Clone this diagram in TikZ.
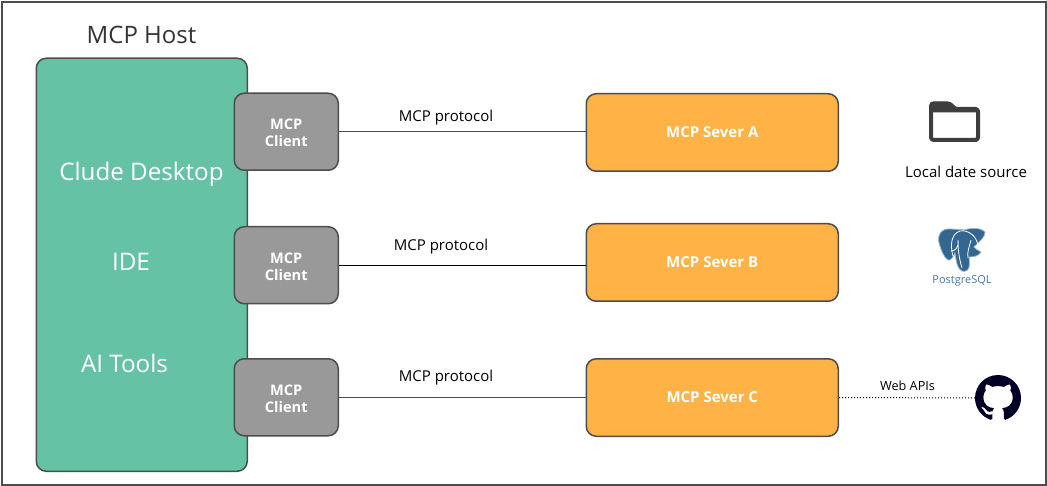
\documentclass[tikz,border=0pt]{standalone}
\usepackage{fontspec}
\setmainfont{Open Sans}
\usepackage{xcolor}
\usetikzlibrary{svg.path}
\definecolor{hostgreen}{HTML}{66C2A5}
\definecolor{clientgray}{HTML}{999999}
\definecolor{serverorange}{HTML}{FFB347}
\definecolor{edgegray}{HTML}{4D4D4D}
\definecolor{pgblue}{HTML}{336791}
\newcommand{\clientlabel}{\rule{0pt}{13.5pt}MCP\\Client}
\tikzset{
  box/.style={draw=edgegray,line width=1.5pt,rounded corners=10pt,inner sep=0pt,anchor=north west},
  hostbox/.style={box,fill=hostgreen,minimum width=211pt,minimum height=413pt},
  clientbox/.style={box,fill=clientgray,minimum width=104pt,minimum height=77pt,text=white,font=\fontsize{14.6}{17}\selectfont\bfseries,align=center},
  serverbox/.style={box,fill=serverorange,minimum width=252pt,minimum height=77.5pt,text=white,font=\fontsize{15}{17}\selectfont\bfseries},
  hosttext/.style={text=white,font=\fontsize{24.2}{27}\selectfont,inner sep=0pt},
  linetext/.style={font=\fontsize{15}{18}\selectfont,inner sep=0pt}
}
\begin{document}
\begin{tikzpicture}[x=1pt,y=-1pt]
  \useasboundingbox (0,0) rectangle (1047,486);
  \node[draw=edgegray,line width=2pt,minimum width=1044pt,minimum height=483pt,anchor=north west,inner sep=0pt] (frame) at (1,1) {};

  % host
  \node[font=\fontsize{24}{27}\selectfont,text=black!80,inner sep=0pt] (hostname) at (141.5,35) {MCP Host};
  \node[hostbox] (host) at (35.5,57.5) {};
  \node[hosttext] (desktop) at (141.5,174) {Clude Desktop};
  \node[hosttext] (ide) at (131,262) {IDE};
  \node[hosttext] (aitools) at (124.5,363) {AI Tools};

  % clients
  \node[clientbox] (clientA) at (233.5,92.5) {\clientlabel};
  \node[clientbox] (clientB) at (233.5,226) {\clientlabel};
  \node[clientbox] (clientC) at (233.5,358) {\clientlabel};

  % servers
  \node[serverbox] (serverA) at (585.5,93) {MCP Sever A};
  \node[serverbox] (serverB) at (585.5,223) {MCP Sever B};
  \node[serverbox] (serverC) at (585.5,358) {MCP Sever C};

  \draw[edgegray,line width=1pt] (clientA.east) -- (clientA.east -| serverA.west);
  \draw[black,line width=1pt] (clientB.east) -- (clientB.east -| serverB.west);
  \draw[edgegray,line width=1pt] (clientC.east) -- (clientC.east -| serverC.west);
  \node[linetext] (protoA) at (446,118) {MCP protocol};
  \node[linetext] (protoB) at (441,247) {MCP protocol};
  \node[linetext] (protoC) at (446,378) {MCP protocol};

  % local data
  \draw[edgegray!80!black,line width=4pt,line join=round,rounded corners=2.5pt] (931,103.5) -- (950,103.5) -- (955,109) -- (978,109) -- (978,140) -- (931,140) -- cycle;
  \fill[edgegray!80!black,rounded corners=1pt] (930,102) -- (950,102) -- (955,108) -- (978,108) -- (978,112.5) -- (930,112.5) -- cycle;
  \node[linetext] (localtext) at (966,172) {Local date source};

  % postgres
  \fill[pgblue,draw=pgblue!45,line width=.8pt] (951,229) .. controls (942,228) and (937,234) .. (939,243) .. controls (941,250) and (944,258) .. (948,260) .. controls (951,261) and (953,257) .. (955,253) .. controls (956,260) and (957,271) .. (964,271.5) .. controls (970,271.5) and (970,264) .. (969,257) .. controls (974,257) and (979,256) .. (981,252) .. controls (978,250) and (975,249) .. (974,247) .. controls (979,242) and (986,236) .. (985,232) .. controls (980,227) and (970,228) .. (964,230) .. controls (960,229) and (955,229.5) .. (951,229) -- cycle;
  \draw[white,line width=.8pt] (953,256) .. controls (950,245) and (951,234) .. (960,231) .. controls (968,229.5) and (977,236) .. (978,246)
    (951,251) .. controls (955,251) and (959,248) .. (958,240) .. controls (958,250) and (959,258) .. (962,268)
    (971,240) .. controls (969,248) and (967,252) .. (968,258);
  \node[text=pgblue!90,font=\fontsize{11}{13}\selectfont,inner sep=0pt] (pgtext) at (962,281) {PostgreSQL};

  % github
  \node[circle,minimum size=46pt,inner sep=0pt] (github) at (998,398) {};
  \fill[black!85!blue] [shift={(975,375)},xscale=2.875,yscale=-2.875] svg "M 8 0 C 3.58 0 0 3.58 0 8 c 0 3.54 2.29 6.53 5.47 7.59 c .4 .07 .55 -.17 .55 -.38 c 0 -.19 -.01 -.82 -.01 -1.49 c -2.01 .37 -2.53 -.49 -2.69 -.94 c -.09 -.23 -.48 -.94 -.82 -1.13 c -.28 -.15 -.68 -.52 -.01 -.53 c .63 -.01 1.08 .58 1.23 .82 c .72 1.21 1.87 .87 2.33 .66 c .07 -.52 .28 -.87 .51 -1.07 c -1.78 -.2 -3.64 -.89 -3.64 -3.95 c 0 -.87 .31 -1.59 .82 -2.15 c -.08 -.2 -.36 -1.02 .08 -2.12 c 0 0 .67 -.21 2.2 .82 c .64 -.18 1.32 -.27 2 -.27 c .68 0 1.36 .09 2 .27 c 1.53 -1.04 2.2 -.82 2.2 -.82 c .44 1.1 .16 1.92 .08 2.12 c .51 .56 .82 1.27 .82 2.15 c 0 3.07 -1.87 3.75 -3.65 3.95 c .29 .25 .54 .73 .54 1.48 c 0 1.07 -.01 1.93 -.01 2.2 c 0 .21 .15 .46 .55 .38 C 13.71 14.53 16 11.53 16 8 c 0 -4.42 -3.58 -8 -8 -8 z";
  \draw[black,line width=1pt,dotted] (serverC.east) -- (github.west);
  \node[font=\fontsize{12.7}{15}\selectfont,inner sep=0pt] (webapis) at (907.5,386) {Web APIs};
\end{tikzpicture}
\end{document}
